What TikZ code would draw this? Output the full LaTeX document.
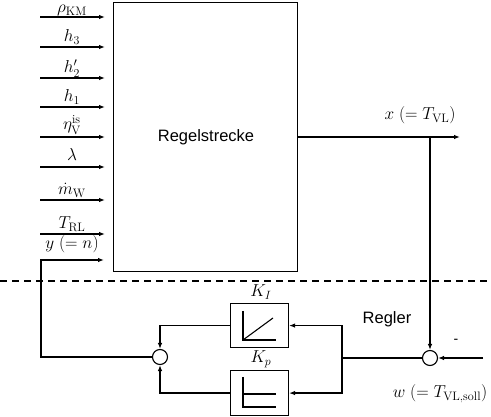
\documentclass[tikz,border=0pt]{standalone}
\usepackage{fontspec}
\newfontfamily\sansf{Liberation Sans}
\usetikzlibrary{arrows.meta}
\begin{document}
\begin{tikzpicture}[x=1pt,y=-1pt,
  line/.style={line width=1.1pt},
  arr/.style={line, -{Latex[length=6pt,width=4.5pt]}},
  blk/.style={draw, line width=1.1pt, inner sep=0pt},
  sumc/.style={draw, circle, line width=1.1pt, minimum size=15pt, inner sep=0pt},
  mlab/.style={font=\fontsize{17.5}{20}\selectfont, inner sep=0pt, anchor=base},
  slab/.style={font=\sansf\fontsize{16.5}{19}\selectfont, inner sep=0pt}]
\useasboundingbox (0,0) rectangle (491,417);
% main box
\node[blk, minimum width=184pt, minimum height=269pt, anchor=north west] (box) at (113,2) {};
\node[slab] (rs) at (206,137) {Regelstrecke};
% inputs
\foreach \yy/\lab/\ly [count=\i] in {17/{\rho_{\mathrm{KM}}}/13, 47/{h_3}/42, 78/{h_2'}/73, 107/{h_1}/102, 137/{\eta_{\mathrm{V}}^{\mathrm{is}}}/130, 167/{\lambda}/161, 200/{\dot m_{\mathrm{W}}}/195, 234/{T_{\mathrm{RL}}}/229} {
  \coordinate (s\i) at (40,\yy);
  \coordinate (e\i) at (105,\yy);
  \draw[arr] (s\i) -- (e\i);
  \node[mlab] (l\i) at (72,\ly) {$\lab$};
}
\node[mlab] (ly) at (72,249) {$y\;(=n)$};
% output
\coordinate (outR) at (460,137);
\coordinate (tap) at (430,137);
\draw[arr] (box.east |- outR) -- (outR);
\node[mlab] (lx) at (420,120) {$x\;(=T_{\mathrm{VL}})$};
% dashed
\coordinate (d1) at (0,281);
\coordinate (d2) at (491,281);
\draw[line, dash pattern=on 7pt off 5pt] (d1) -- (d2);
% controller
\node[sumc] (sr) at (430,358) {};
\node[sumc] (sl) at (160,357) {};
\node[blk, minimum width=58pt, minimum height=44pt, anchor=north west] (ki) at (230,303) {};
\node[blk, minimum width=58pt, minimum height=45pt, anchor=north west] (kp) at (230,370) {};
\node[mlab] (lki) at (261,297) {$K_I$};
\node[mlab] (lkp) at (261,363) {$K_p$};
% icons
\draw[line] (243,311) -- (243,340) -- (276,340);
\draw[line] (243,340) -- (273,318);
\draw[line] (243,377) -- (243,407) -- (276,407);
\draw[line] (243,394) -- (276,394);
% connections
\draw[arr] (tap) -- (sr.north);
\coordinate (win) at (483,358);
\draw[arr] (win) -- (sr.east);
\node[font=\sansf\fontsize{14}{16}\selectfont] (minus) at (456,341) {-};
\node[mlab] (lw) at (440,398) {$w\;(=T_{\mathrm{VL,soll}})$};
\node[slab] (reg) at (387,319) {Regler};
\coordinate (br) at (342,358);
\draw[line] (sr.west) -- (br);
\draw[arr] (br) |- (ki.east);
\draw[arr] (br) |- (kp.east);
\draw[arr] (ki.west) -| (sl.north);
\draw[arr] (kp.west) -| (sl.south);
\coordinate (yc) at (41,357);
\coordinate (ye) at (104,260);
\draw[arr] (sl.west) -- (yc) |- (ye);
\end{tikzpicture}
\end{document}
